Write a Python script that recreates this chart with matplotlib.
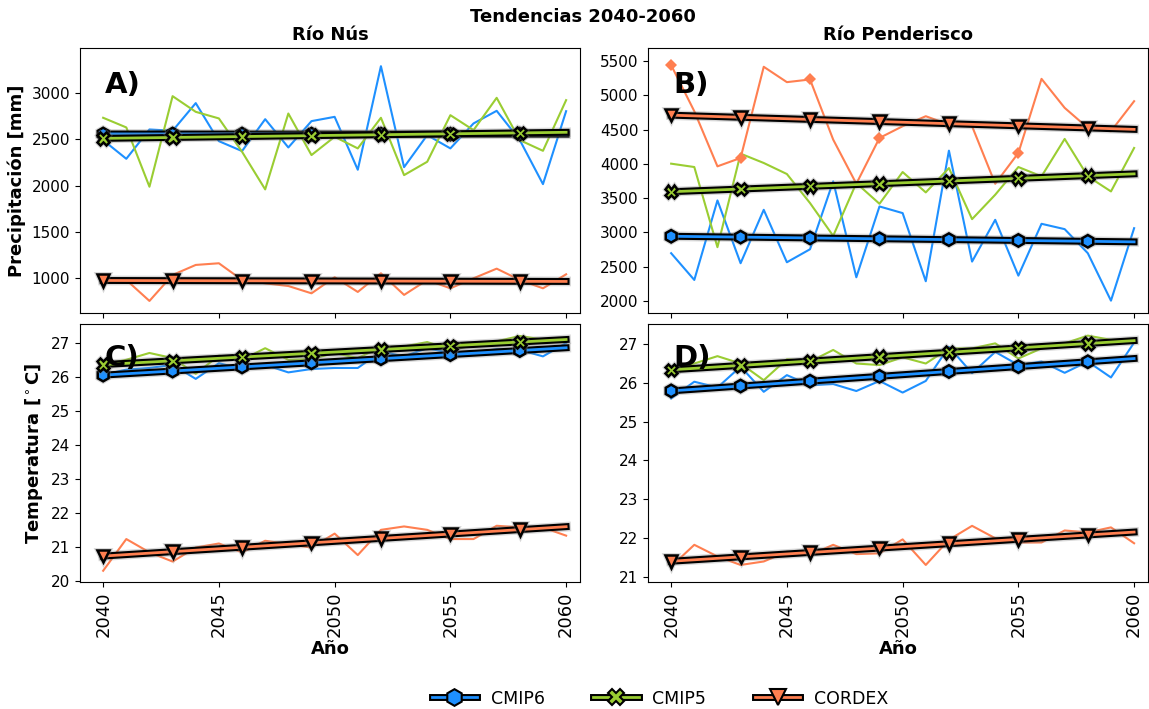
import numpy as np
import matplotlib
matplotlib.use("Agg")
import matplotlib.pyplot as plt
import matplotlib.patheffects as pe
from matplotlib.lines import Line2D

years = np.arange(2040, 2061)

# Río Nús - precipitation [mm]
nus_pr_cmip6 = [2489, 2288, 2604, 2590, 2888, 2478, 2371, 2715, 2410, 2694, 2740,
                2170, 3286, 2198, 2543, 2400, 2669, 2805, 2489, 2015, 2801]
nus_pr_cmip5 = [2730, 2626, 1987, 2963, 2794, 2723, 2364, 1958, 2776, 2328, 2525,
                2400, 2730, 2112, 2256, 2758, 2597, 2945, 2489, 2374, 2920]
nus_pr_cordex = [1000, 982, 756, 1036, 1144, 1162, 982, 946, 917, 838, 1011,
                 853, 1054, 821, 982, 892, 1000, 1104, 982, 892, 1043]

# Río Penderisco - precipitation [mm]
pen_pr_cmip6 = [2697, 2307, 3467, 2551, 3330, 2565, 2755, 3745, 2346, 3379, 3282,
                2288, 4193, 2575, 3184, 2370, 3126, 3048, 2697, 2005, 3062]
pen_pr_cmip5 = [4003, 3954, 2785, 4149, 4013, 3852, 3428, 2950, 3720, 3418, 3881,
                3584, 3939, 3194, 3550, 3954, 3818, 4364, 3818, 3598, 4232]
pen_pr_cordex = [5440, 4768, 3964, 4086, 5416, 5192, 5231, 4354, 3710, 4378, 4549,
                 4695, 4573, 4549, 3710, 4159, 5240, 4817, 4524, 4476, 4914]

# Río Nús - temperature [°C]
nus_t_cmip6 = [26.06, 26.21, 26.26, 26.35, 25.94, 26.40, 26.23, 26.35, 26.13, 26.23, 26.26,
               26.26, 26.74, 26.60, 26.84, 26.70, 26.72, 26.81, 26.79, 26.60, 26.99]
nus_t_cmip5 = [26.35, 26.50, 26.70, 26.55, 26.09, 26.62, 26.50, 26.84, 26.50, 26.52, 26.70,
               26.55, 26.87, 26.89, 27.02, 26.81, 26.91, 27.04, 27.20, 27.09, 27.02]
nus_t_cordex = [20.31, 21.24, 20.85, 20.58, 20.99, 21.11, 20.85, 21.19, 21.09, 20.99, 21.40,
                20.77, 21.51, 21.61, 21.51, 21.24, 21.24, 21.63, 21.58, 21.58, 21.34]

# Río Penderisco - temperature [°C]
pen_t_cmip6 = [25.60, 26.03, 25.88, 26.42, 25.77, 26.20, 25.94, 25.97, 25.79, 26.05, 25.75,
               26.05, 26.93, 26.25, 26.80, 26.46, 26.55, 26.26, 26.55, 26.14, 27.04]
pen_t_cmip5 = [26.33, 26.50, 26.69, 26.50, 26.07, 26.61, 26.55, 26.85, 26.50, 26.46, 26.66,
               26.50, 26.89, 26.89, 27.02, 26.63, 26.89, 27.02, 27.22, 27.11, 27.11]
pen_t_cordex = [21.26, 21.82, 21.52, 21.30, 21.39, 21.64, 21.56, 21.82, 21.58, 21.60, 21.96,
                21.30, 21.95, 22.31, 21.99, 21.88, 21.88, 22.19, 22.14, 22.27, 21.86]

models = ["CMIP6", "CMIP5", "CORDEX"]
colors = ["#1E90FF", "#9ACD32", "#FF7F50"]
markers = ["h", "X", "v"]

panels = [
    ("A)", [nus_pr_cmip6, nus_pr_cmip5, nus_pr_cordex]),
    ("B)", [pen_pr_cmip6, pen_pr_cmip5, pen_pr_cordex]),
    ("C)", [nus_t_cmip6, nus_t_cmip5, nus_t_cordex]),
    ("D)", [pen_t_cmip6, pen_t_cmip5, pen_t_cordex]),
]

trend_fx = [pe.Stroke(linewidth=7, foreground="grey", alpha=0.3),
            pe.Stroke(linewidth=5, foreground="black"),
            pe.Normal()]
marker_fx = [pe.Stroke(linewidth=3.5, foreground="grey", alpha=0.3), pe.Normal()]

fig = plt.figure(figsize=(11.49, 7.09), dpi=100)
w = 500 / 1149
positions = [
    [80 / 1149, 1 - 313 / 709, w, 265 / 709],
    [648 / 1149, 1 - 313 / 709, w, 265 / 709],
    [80 / 1149, 1 - 582 / 709, w, 258 / 709],
    [648 / 1149, 1 - 582 / 709, w, 258 / 709],
]
ylims = [(626, 3482), (1825, 5690), (19.98, 27.55), (20.86, 27.52)]

for i, (letter, series) in enumerate(panels):
    ax = fig.add_axes(positions[i])
    # raw series
    for j, vals in enumerate(series):
        kw = {}
        if letter == "B)" and j == 2:
            kw = dict(marker="D", markersize=6, markevery=3, markeredgewidth=0)
        ax.plot(years, vals, color=colors[j], lw=1.5, zorder=2, **kw)
    # linear trends
    for j, vals in enumerate(series):
        slope, icpt = np.polyfit(years, vals, 1)
        fit = slope * years + icpt
        ax.plot(years, fit, color=colors[j], lw=2, path_effects=trend_fx, zorder=3 + 2 * j)
        ax.plot(years, fit, ls="none", marker=markers[j], markersize=9, markevery=3,
                markerfacecolor=colors[j], markeredgecolor="black", markeredgewidth=1.8,
                path_effects=marker_fx, zorder=4 + 2 * j)
    ax.set_xlim(2039, 2060.6)
    ax.set_ylim(*ylims[i])
    ax.set_xticks([2040, 2045, 2050, 2055, 2060])
    ax.tick_params(labelsize=11)
    ax.text(0.05, 0.86 if i < 2 else 0.87, letter, transform=ax.transAxes,
            fontsize=21, fontweight="bold", va="center", ha="left", zorder=10)
    if i < 2:
        ax.set_xticklabels([])
    else:
        ax.tick_params(axis="x", labelrotation=90, labelsize=13)
        ax.set_xlabel("Año", fontsize=13, fontweight="bold", labelpad=2)
    if i == 0:
        ax.set_title("Río Nús", fontsize=13, fontweight="bold")
        ax.set_ylabel("Precipitación [mm]", fontsize=13, fontweight="bold")
    if i == 1:
        ax.set_title("Río Penderisco", fontsize=13, fontweight="bold")
    if i == 2:
        ax.set_ylabel("Temperatura [$^\\circ$C]", fontsize=13, fontweight="bold")

fig.text(0.507, 0.976, "Tendencias 2040-2060", fontsize=13, fontweight="bold",
         ha="center", va="center")

handles = []
for j in range(3):
    ln = Line2D([], [], color=colors[j], lw=2,
                path_effects=[pe.Stroke(linewidth=5, foreground="black"), pe.Normal()])
    mk = Line2D([], [], ls="none", marker=markers[j], markersize=12,
                markerfacecolor=colors[j], markeredgecolor="black", markeredgewidth=1.5)
    handles.append((ln, mk))
fig.legend(handles, models, loc="lower center", bbox_to_anchor=(660 / 1149, -0.02),
           ncol=3, frameon=False, fontsize=12.5, handlelength=2.6, columnspacing=2.8)

fig.savefig("out.png", dpi=100)
